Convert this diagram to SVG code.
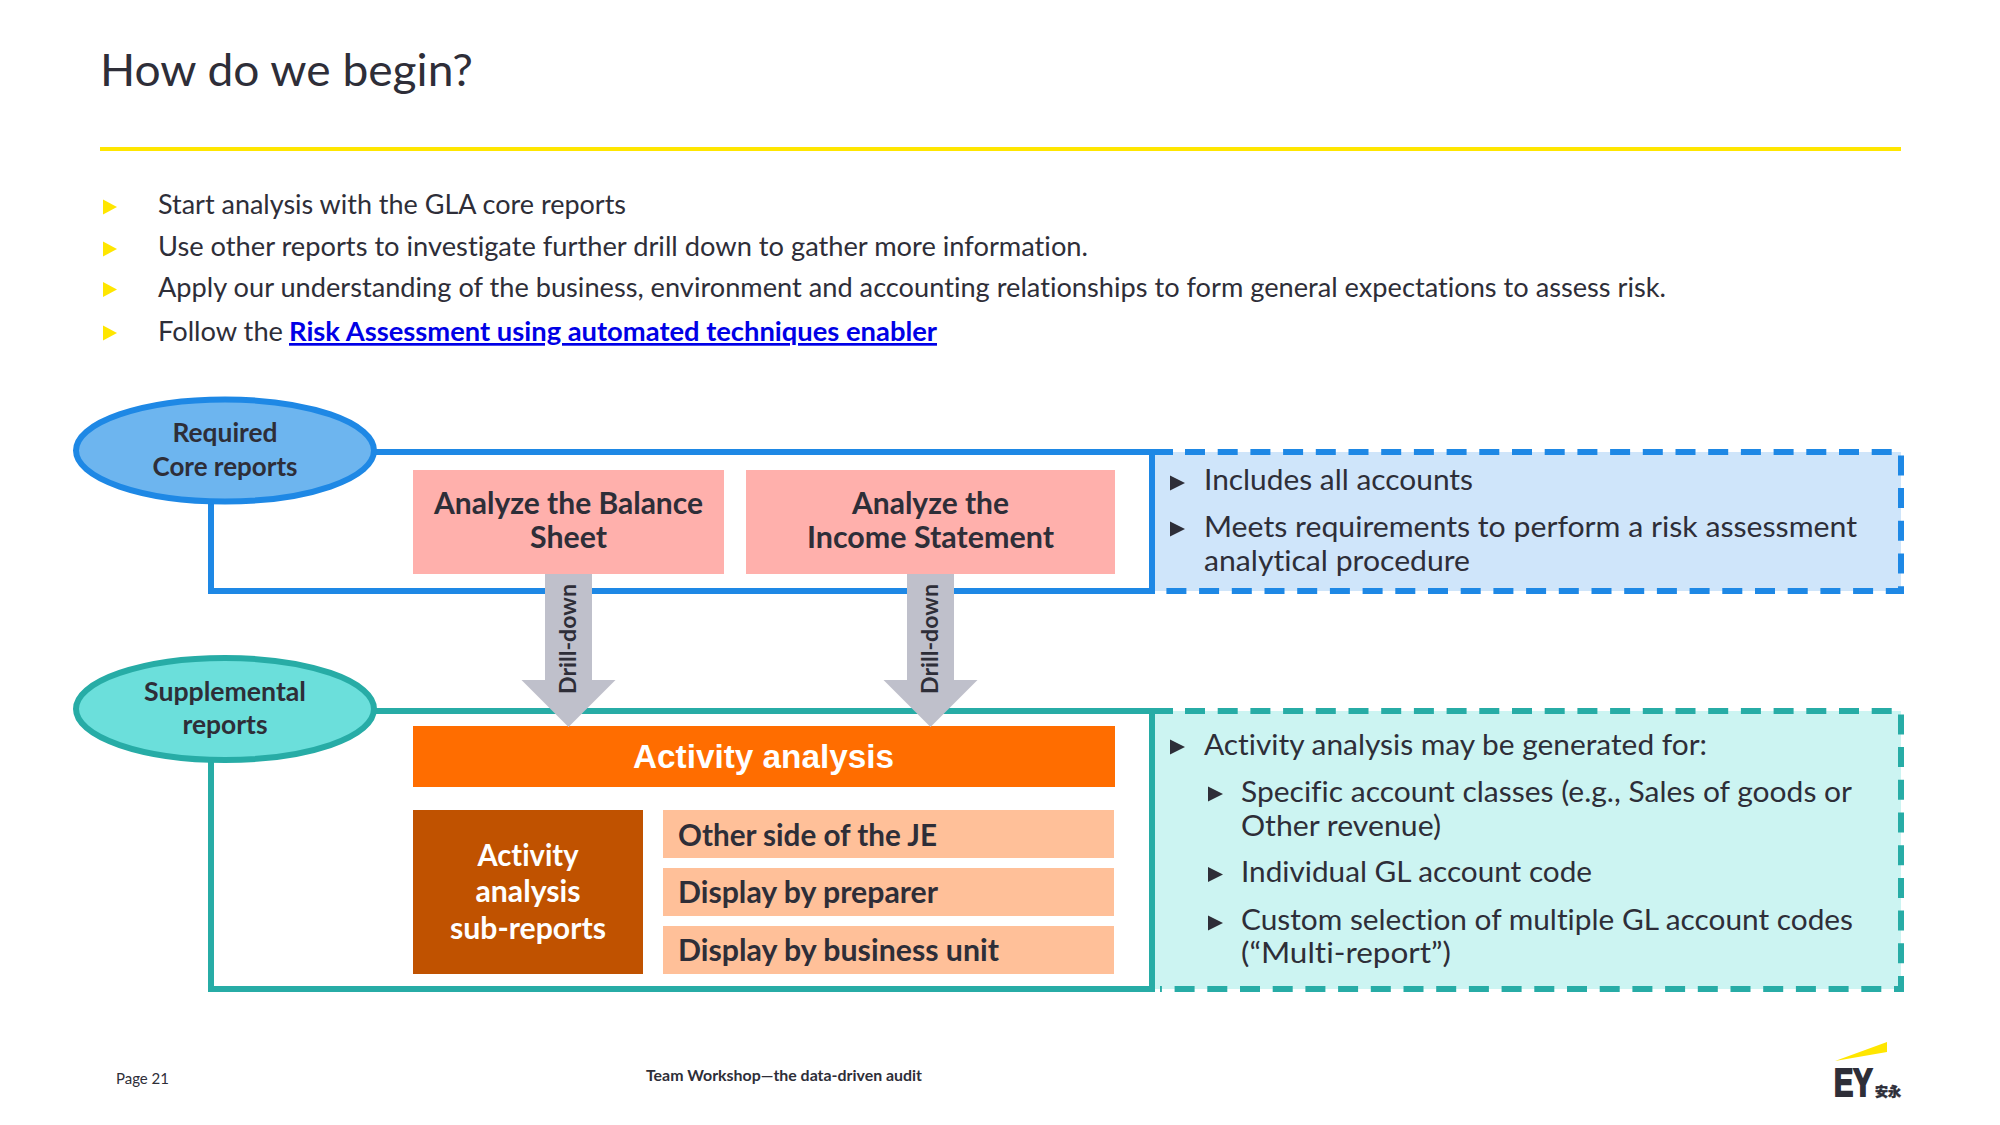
<svg xmlns="http://www.w3.org/2000/svg" width="2000" height="1125" viewBox="0 0 2000 1125">
<style>
text{font-family:"Lato","Liberation Sans",sans-serif;fill:#2e2e38;font-variant-ligatures:none}
.title{font-size:44px}
.b{font-size:27px}
.d{font-size:28.5px}
.lab{font-size:26px;font-weight:700}
.head{font-size:30px;font-weight:700}
.sub{font-size:30px;font-weight:700}
.w{fill:#fff}
.drill{font-size:22px;font-weight:700}
.aa{font-family:"Liberation Sans",Arial,sans-serif;font-size:34px;font-weight:700;fill:#fff}
.link{fill:#0000e6;font-weight:700;text-decoration:underline}
.ybul{fill:#ffe600}
.dbul{fill:#2e2e38}
.blue{fill:none;stroke:#1e88e5;stroke-width:6}
.teal{fill:none;stroke:#27aca6;stroke-width:6}
.dash{stroke-dasharray:20 12.7}
.arrow{fill:#bfc0cb}
</style>
<defs>
<polygon id="yb" class="ybul" points="0,-7.5 14,0 0,7.5"/>
<polygon id="db" class="dbul" points="0,-7.5 15,0 0,7.5"/>
<polygon id="dr" class="arrow" points="-23.500,-153 23.500,-153 23.500,-47 47,-47 0,0 -47,-47 -23.500,-47"/>
</defs>
<rect width="2000" height="1125" fill="#fff"/>
<g id="header">
<text class="title" x="100" y="86" textLength="373" lengthAdjust="spacingAndGlyphs">How do we begin?</text>
<rect x="100" y="147" width="1801" height="4" fill="#ffe600"/>
<use href="#yb" x="103" y="207"/><use href="#yb" x="103" y="249"/><use href="#yb" x="103" y="289.500"/><use href="#yb" x="103" y="333"/>
<text class="b" x="158" y="214" textLength="468" lengthAdjust="spacingAndGlyphs">Start analysis with the GLA core reports</text>
<text class="b" x="158" y="256" textLength="930" lengthAdjust="spacingAndGlyphs">Use other reports to investigate further drill down to gather more information.</text>
<text class="b" x="158" y="297" textLength="1508" lengthAdjust="spacingAndGlyphs">Apply our understanding of the business, environment and accounting relationships to form general expectations to assess risk.</text>
<text class="b" x="158" y="341" textLength="125" lengthAdjust="spacingAndGlyphs">Follow the</text>
<text class="b link" x="289" y="341" textLength="648" lengthAdjust="spacingAndGlyphs">Risk Assessment using automated techniques enabler</text>
</g>
<g id="connectors">
<rect x="1152" y="452" width="749" height="139" fill="#cfe5fa"/>
<rect x="1152" y="711" width="749" height="278" fill="#ccf4f2"/>
<path class="blue" d="M370,452H1173M1152,452V591H211V500"/>
<path class="blue dash" d="M1185,452H1901V591H1160"/>
<path class="teal" d="M370,711H1173M1152,711V989H211V760"/>
<path class="teal dash" d="M1185,711H1901V989H1160"/>
</g>
<g id="core-ellipse">
<ellipse cx="225" cy="450.500" rx="149" ry="51" fill="#6db5ef" stroke="#1e88e5" stroke-width="6"/>
<text class="lab" x="225" y="442" text-anchor="middle" textLength="105" lengthAdjust="spacingAndGlyphs">Required</text>
<text class="lab" x="225" y="476" text-anchor="middle" textLength="145" lengthAdjust="spacingAndGlyphs">Core reports</text>
</g>
<g id="supp-ellipse">
<ellipse cx="225" cy="709" rx="149" ry="51" fill="#6bdfdb" stroke="#27aca6" stroke-width="6"/>
<text class="lab" x="225" y="701" text-anchor="middle" textLength="162" lengthAdjust="spacingAndGlyphs">Supplemental</text>
<text class="lab" x="225" y="734" text-anchor="middle" textLength="85" lengthAdjust="spacingAndGlyphs">reports</text>
</g>
<g id="balance-sheet">
<rect x="413" y="470" width="311" height="104" fill="#ffb0ac"/>
<text class="head" x="568.500" y="514" text-anchor="middle" textLength="269" lengthAdjust="spacingAndGlyphs">Analyze the Balance</text>
<text class="head" x="568.500" y="548" text-anchor="middle" textLength="77" lengthAdjust="spacingAndGlyphs">Sheet</text>
</g>
<g id="income-statement">
<rect x="746" y="470" width="369" height="104" fill="#ffb0ac"/>
<text class="head" x="930.500" y="514" text-anchor="middle" textLength="157" lengthAdjust="spacingAndGlyphs">Analyze the</text>
<text class="head" x="930.500" y="548" text-anchor="middle" textLength="247" lengthAdjust="spacingAndGlyphs">Income Statement</text>
</g>
<g id="activity-bar">
<rect x="413" y="726" width="702" height="61" fill="#ff6d00"/>
<text class="aa" x="763.500" y="768" text-anchor="middle" textLength="261" lengthAdjust="spacingAndGlyphs">Activity analysis</text>
</g>
<g id="drill-1">
<use href="#dr" x="568.500" y="727"/>
<text class="drill" transform="translate(575.500 694) rotate(-90)" textLength="110" lengthAdjust="spacingAndGlyphs">Drill-down</text>
</g>
<g id="drill-2">
<use href="#dr" x="930.500" y="727"/>
<text class="drill" transform="translate(937.500 694) rotate(-90)" textLength="110" lengthAdjust="spacingAndGlyphs">Drill-down</text>
</g>
<g id="sub-reports">
<rect x="413" y="810" width="230" height="164" fill="#c05200"/>
<text class="sub w" x="528" y="866" text-anchor="middle" textLength="101" lengthAdjust="spacingAndGlyphs">Activity</text>
<text class="sub w" x="528" y="902" text-anchor="middle" textLength="105" lengthAdjust="spacingAndGlyphs">analysis</text>
<text class="sub w" x="528" y="939" text-anchor="middle" textLength="156" lengthAdjust="spacingAndGlyphs">sub-reports</text>
</g>
<g id="other-side">
<rect x="663" y="810" width="451" height="48" fill="#ffc099"/>
<text class="sub" x="678" y="846" textLength="259" lengthAdjust="spacingAndGlyphs">Other side of the JE</text>
</g>
<g id="by-preparer">
<rect x="663" y="868" width="451" height="48" fill="#ffc099"/>
<text class="sub" x="678" y="903" textLength="260" lengthAdjust="spacingAndGlyphs">Display by preparer</text>
</g>
<g id="by-unit">
<rect x="663" y="926" width="451" height="48" fill="#ffc099"/>
<text class="sub" x="678" y="961" textLength="321" lengthAdjust="spacingAndGlyphs">Display by business unit</text>
</g>
<g id="core-notes">
<use href="#db" x="1170" y="483"/><use href="#db" x="1170" y="529"/>
<text class="d" x="1204" y="490" textLength="269" lengthAdjust="spacingAndGlyphs">Includes all accounts</text>
<text class="d" x="1204" y="537" textLength="653" lengthAdjust="spacingAndGlyphs">Meets requirements to perform a risk assessment</text>
<text class="d" x="1204" y="571" textLength="266" lengthAdjust="spacingAndGlyphs">analytical procedure</text>
</g>
<g id="supp-notes">
<use href="#db" x="1170" y="747"/><use href="#db" x="1208" y="794"/><use href="#db" x="1208" y="874.500"/><use href="#db" x="1208" y="923"/>
<text class="d" x="1204" y="755" textLength="503" lengthAdjust="spacingAndGlyphs">Activity analysis may be generated for:</text>
<text class="d" x="1241" y="802" textLength="611" lengthAdjust="spacingAndGlyphs">Specific account classes (e.g., Sales of goods or</text>
<text class="d" x="1241" y="836" textLength="200" lengthAdjust="spacingAndGlyphs">Other revenue)</text>
<text class="d" x="1241" y="882" textLength="351" lengthAdjust="spacingAndGlyphs">Individual GL account code</text>
<text class="d" x="1241" y="930" textLength="612" lengthAdjust="spacingAndGlyphs">Custom selection of multiple GL account codes</text>
<text class="d" x="1241" y="963" textLength="210" lengthAdjust="spacingAndGlyphs">(“Multi-report”)</text>
</g>
<g id="footer">
<text x="116" y="1084" font-size="15" textLength="53" lengthAdjust="spacingAndGlyphs">Page 21</text>
<text x="646" y="1081" font-size="15" font-weight="700" textLength="276" lengthAdjust="spacingAndGlyphs">Team Workshop—the data-driven audit</text>
<polygon points="1835,1061 1887,1042 1887,1052" fill="#ffe600"/>
<text transform="translate(1834 1096) scale(.76 1)" style="font-family:'Liberation Sans',sans-serif;font-weight:700" font-size="38" stroke="#2e2e38" stroke-width="2">EY</text>
<text x="1875" y="1096" style="font-family:'Noto Sans CJK SC',sans-serif;font-weight:900" font-size="13" stroke="#2e2e38" stroke-width="0.4">安永</text>
</g>
</svg>
